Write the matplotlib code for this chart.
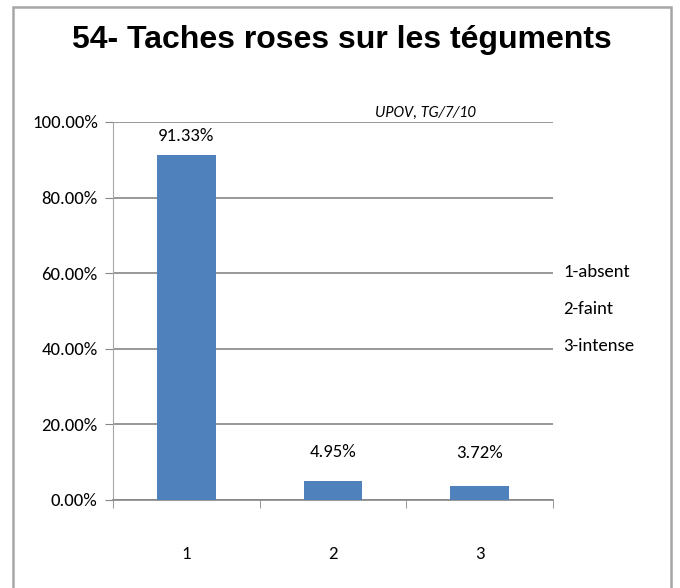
import matplotlib
matplotlib.use("Agg")
import matplotlib.pyplot as plt
from matplotlib.patches import Rectangle
from matplotlib import font_manager

categories = ["1", "2", "3"]
values = [91.33, 4.95, 3.72]
value_labels = ["91.33%", "4.95%", "3.72%"]
y_ticks = [0, 20, 40, 60, 80, 100]
y_tick_labels = ["0.00%", "20.00%", "40.00%", "60.00%", "80.00%", "100.00%"]
legend_lines = ["1-absent", "2-faint", "3-intense"]
title = "54- Taches roses sur les téguments"
source = "UPOV, TG/7/10"

names = {f.name for f in font_manager.fontManager.ttflist}
narrow = "DejaVu Sans"
for cand in ["Carlito", "Liberation Sans Narrow", "Roboto Condensed", "PT Sans Narrow",
             "Open Sans Condensed"]:
    if cand in names:
        narrow = cand
        break
fam = [narrow, "DejaVu Sans"]
title_fam = ["Liberation Sans", "Arimo", "DejaVu Sans"]

fig = plt.figure(figsize=(6.8, 5.88), dpi=100)
W, H = 680, 588

# outer frame (bottom edge lies below the picture)
fig.patches.append(Rectangle((13 / W, -6 / H), 658 / W, (H - 7 + 6) / H, transform=fig.transFigure,
                             fill=False, edgecolor="#a6a6a6", linewidth=1.8, clip_on=False))

ax = fig.add_axes([113 / W, (H - 500) / H, 440 / W, 378 / H])
x = list(range(len(categories)))
ax.bar(x, values, width=0.4, color="#4f81bd", zorder=3)
ax.set_xlim(-0.5, len(categories) - 0.5)
ax.set_ylim(0, 100)

fs = 13.5
ax.set_yticks(y_ticks)
ax.set_yticklabels(y_tick_labels, fontsize=fs, family=fam)
ax.set_xticks(x)
ax.set_xticklabels(categories, fontsize=fs, family=fam)
ax.tick_params(axis="x", length=0, pad=33)
ax.set_xticks([-0.5, 0.5, 1.5, 2.5], minor=True)
ax.tick_params(axis="x", which="minor", length=6, color="#868686", direction="out")
ax.tick_params(axis="y", length=6, color="#868686", direction="out", pad=5)
ax.grid(axis="y", color="#868686", linewidth=1.2, zorder=0)
for s in ["top", "right"]:
    ax.spines[s].set_visible(False)
ax.spines["left"].set_color("#a6a6a6")
ax.spines["bottom"].set_color("#868686")
ax.spines["bottom"].set_linewidth(1.2)

offsets = [8, 15, 18]
for xi, v, lab, off in zip(x, values, value_labels, offsets):
    ax.annotate(lab, (xi, v), xytext=(0, off), textcoords="offset points",
                ha="center", va="bottom", fontsize=fs, family=fam)

fig.text(342 / W, 1 - 40 / H, title, ha="center", va="center", fontsize=23,
         fontweight="bold", family=title_fam)
fig.text(425 / W, 1 - 113 / H, source, ha="center", va="center", fontsize=11.5,
         style="italic", family=fam)
for i, t in enumerate(legend_lines):
    fig.text(563 / W, 1 - (272 + 37 * i) / H, t, ha="left", va="center",
             fontsize=fs, family=fam)

fig.savefig("out.png", dpi=100)
